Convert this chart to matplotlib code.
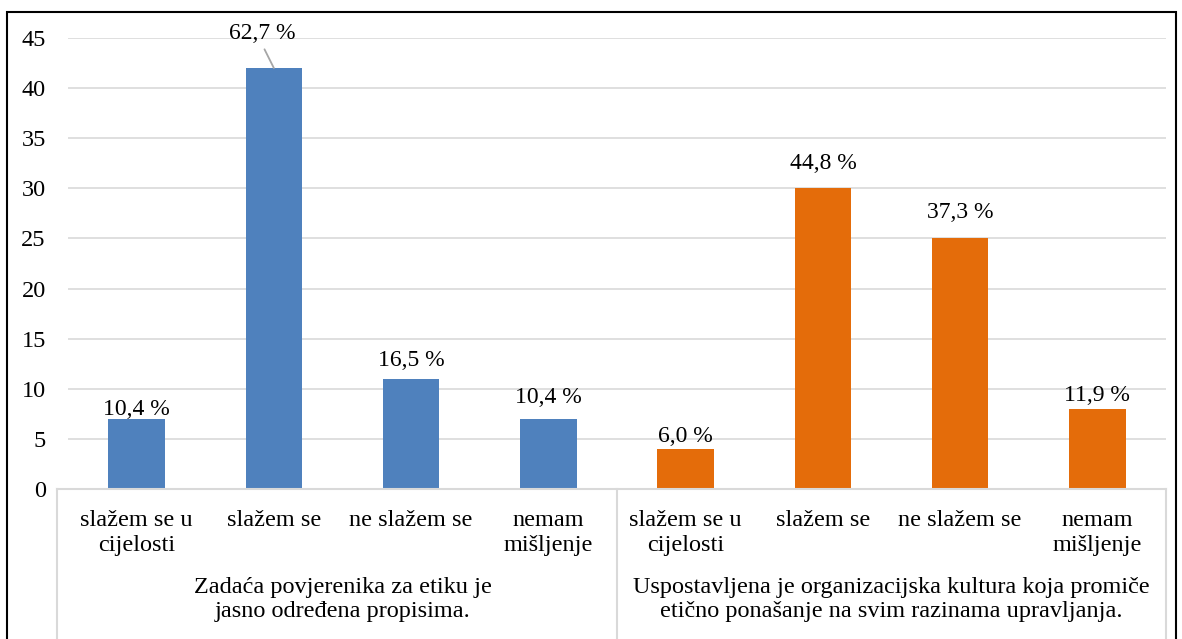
import matplotlib.pyplot as plt
from matplotlib.patches import Rectangle

plt.rcParams["font.family"] = ["Liberation Serif", "DejaVu Serif"]

categories = ["slažem se u\ncijelosti", "slažem se", "ne slažem se", "nemam\nmišljenje"]
groups = [
    "Zadaća povjerenika za etiku je\njasno određena propisima.",
    "Uspostavljena je organizacijska kultura koja promiče\netično ponašanje na svim razinama upravljanja.",
]
values_1 = [7, 42, 11, 7]
values_2 = [4, 30, 25, 8]
labels_1 = ["10,4 %", "62,7 %", "16,5 %", "10,4 %"]
labels_2 = ["6,0 %", "44,8 %", "37,3 %", "11,9 %"]
yticks = [0, 5, 10, 15, 20, 25, 30, 35, 40, 45]

# label gap above the bar (pixels), as placed in the original
gaps_1 = [4, 29, 13, 16]
gaps_2 = [7, 19, 20, 8]

blue = "#4f81bd"
orange = "#e46c0a"
grid = "#d9d9d9"
fs = 17.5
fs_lab = 17

W, H = 1182, 639
fig = plt.figure(figsize=(W / 100, H / 100), dpi=100)
ax = fig.add_axes([68 / W, (H - 489) / H, (1166 - 68) / W, (489 - 38) / H])

x1 = list(range(4))
x2 = [i + 4 for i in range(4)]
ax.bar(x1, values_1, width=0.41, color=blue, zorder=3)
ax.bar(x2, values_2, width=0.41, color=orange, zorder=3)

for xs, vals, labs, gaps in [(x1, values_1, labels_1, gaps_1), (x2, values_2, labels_2, gaps_2)]:
    for x, v, lab, g in zip(xs, vals, labs, gaps):
        if v > 40:
            # label pushed off the top, joined to its bar by a leader line
            ax.annotate(lab, xy=(x, v), xytext=(-12, g), textcoords="offset pixels",
                        ha="center", va="baseline", fontsize=fs_lab, zorder=5,
                        arrowprops=dict(arrowstyle="-", color="#a6a6a6", lw=1.3,
                                        shrinkA=2, shrinkB=0, relpos=(0.5, 0)))
        else:
            ax.annotate(lab, xy=(x, v), xytext=(0, g), textcoords="offset pixels",
                        ha="center", va="baseline", fontsize=fs_lab)

ax.set_xlim(-0.5, 7.5)
ax.set_ylim(0, 45)
ax.set_yticks(yticks)
ax.set_yticklabels([str(t) for t in yticks], fontsize=fs)
ax.tick_params(axis="y", length=0, pad=16)
ax.set_xticks([])
ax.grid(axis="y", color=grid, lw=1.2, zorder=0)
for s in ax.spines.values():
    s.set_visible(False)

# category axis box
tr = ax.get_xaxis_transform()
px = lambda p: (p - 68) / 137.25 - 0.5
py = lambda p: (489 - p) / 451
ax.plot([px(57), 7.5], [0, 0], transform=tr, color=grid, lw=1.5, clip_on=False, zorder=4)
for xv in [px(57), 3.5, 7.5]:
    ax.plot([xv, xv], [0, py(660)], transform=tr, color=grid, lw=1.5, clip_on=False)

for xs in (x1, x2):
    for x, c in zip(xs, categories):
        ax.text(x, py(510), c, transform=tr, ha="center", va="top", fontsize=fs,
                linespacing=1.27)
for xc, g in zip([1.5, 5.5], groups):
    ax.text(xc, py(577), g, transform=tr, ha="center", va="top", fontsize=fs,
            linespacing=1.18)

fig.patches.append(Rectangle((7 / W, -0.1), (1176 - 7) / W, (H - 12) / H + 0.1,
                             transform=fig.transFigure, fill=False, ec="black", lw=1.5))

fig.savefig("out.png", dpi=100)
